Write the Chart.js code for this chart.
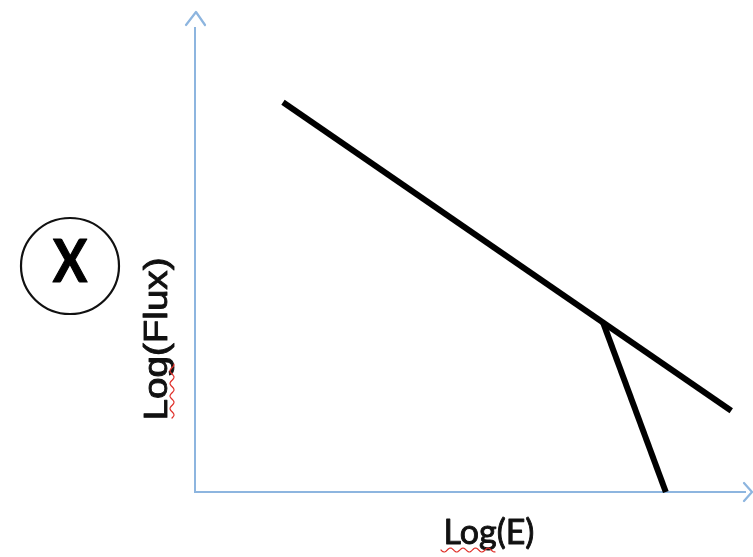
<!DOCTYPE html>
<html>
<head>
<meta charset="utf-8">
<script src="https://cdn.jsdelivr.net/npm/chart.js@4/dist/chart.umd.min.js"></script>
<style>
  html, body { margin: 0; padding: 0; background: #ffffff; }
  #wrap { width: 753px; height: 557px; }
</style>
</head>
<body>
<div id="wrap"><canvas id="c" width="753" height="557"></canvas></div>
<script>
// Sketch of a spectrum in log–log space: a single power law and a steep cutoff branch
const xTitle = 'Log(E)';
const yTitle = 'Log(Flux)';
const panelLabel = 'X';

const powerLawX = [1.6, 9.75];
const powerLawY = [8.4, 1.75];
const cutoffX = [7.42, 8.56];
const cutoffY = [3.65, 0];

const axisMin = 0;
const axisMax = 10;

const toPoints = (xs, ys) => xs.map((x, i) => ({ x, y: ys[i] }));

const AXIS_BLUE = '#8db5df';
const INK = '#111111';

// Arrowheads, axis titles and the circled panel letter
const decorations = {
  id: 'decorations',
  afterDraw(chart) {
    const { ctx, chartArea: a } = chart;
    ctx.save();
    // open chevron arrowheads at the end of each axis
    ctx.strokeStyle = AXIS_BLUE;
    ctx.lineWidth = 2.2;
    ctx.lineCap = 'round';
    ctx.lineJoin = 'round';
    ctx.beginPath();
    ctx.moveTo(a.left - 9, a.top - 3);
    ctx.lineTo(a.left + 1, a.top - 16);
    ctx.lineTo(a.left + 10, a.top - 3);
    ctx.stroke();
    ctx.beginPath();
    ctx.moveTo(a.right - 1, a.bottom - 9);
    ctx.lineTo(a.right + 7, a.bottom);
    ctx.lineTo(a.right - 1, a.bottom + 9);
    ctx.stroke();

    // axis titles, with a hairline stroke to give them a little more weight
    const heavyText = (txt, x, y) => {
      ctx.fillText(txt, x, y);
      ctx.strokeText(txt, x, y);
    };
    ctx.fillStyle = INK;
    ctx.strokeStyle = INK;
    ctx.lineWidth = 0.9;
    ctx.textAlign = 'center';
    ctx.textBaseline = 'middle';
    ctx.font = '34px Lato, "Open Sans", sans-serif';
    heavyText(xTitle, 489, 533);

    ctx.save();
    ctx.translate(158, 339);
    ctx.rotate(-Math.PI / 2);
    ctx.font = '33px "Liberation Sans", Arial, sans-serif';
    ctx.scale(1.17, 1);
    heavyText(yTitle, 0, 0);
    ctx.restore();

    // red wavy spell-check underline beneath "Log"
    const wave = (x0, y0, len, vertical) => {
      ctx.beginPath();
      ctx.strokeStyle = '#e0302a';
      ctx.lineWidth = 1.2;
      for (let i = 0; i <= len; i++) {
        const off = Math.sin(i / 2) * 2;
        if (vertical) {
          const px = x0 + off, py = y0 - i;
          i === 0 ? ctx.moveTo(px, py) : ctx.lineTo(px, py);
        } else {
          const px = x0 + i, py = y0 + off;
          i === 0 ? ctx.moveTo(px, py) : ctx.lineTo(px, py);
        }
      }
      ctx.stroke();
    };
    wave(441, 550, 54, false);
    wave(172, 418, 54, true);

    // circled panel letter
    ctx.beginPath();
    ctx.strokeStyle = INK;
    ctx.lineWidth = 2.2;
    ctx.ellipse(70, 266, 49, 48, 0, 0, Math.PI * 2);
    ctx.stroke();
    ctx.save();
    ctx.translate(70, 263);
    ctx.scale(0.86, 1);
    ctx.font = 'bold 60px Lato, "Liberation Sans", sans-serif';
    ctx.fillStyle = '#000000';
    ctx.strokeStyle = '#000000';
    ctx.lineWidth = 1.2;
    ctx.fillText(panelLabel, 0, 0);
    ctx.strokeText(panelLabel, 0, 0);
    ctx.restore();
    ctx.restore();
  }
};

new Chart(document.getElementById('c'), {
  type: 'line',
  data: {
    datasets: [
      { label: 'Power law', data: toPoints(powerLawX, powerLawY) },
      { label: 'Cutoff', data: toPoints(cutoffX, cutoffY) }
    ]
  },
  options: {
    responsive: false,
    animation: false,
    clip: false,
    layout: { padding: { left: 195, right: 8, top: 28, bottom: 65 } },
    elements: {
      line: { borderColor: '#000000', borderWidth: 6, borderCapStyle: 'butt', tension: 0 },
      point: { radius: 0, hoverRadius: 0 }
    },
    plugins: { legend: { display: false }, tooltip: { enabled: false } },
    scales: {
      x: {
        type: 'linear', min: axisMin, max: axisMax,
        grid: { display: false, drawTicks: false },
        ticks: { display: false },
        border: { display: true, color: AXIS_BLUE, width: 2 }
      },
      y: {
        type: 'linear', min: axisMin, max: axisMax,
        grid: { display: false, drawTicks: false },
        ticks: { display: false },
        border: { display: true, color: AXIS_BLUE, width: 2 }
      }
    }
  },
  plugins: [decorations]
});
</script>
</body>
</html>
